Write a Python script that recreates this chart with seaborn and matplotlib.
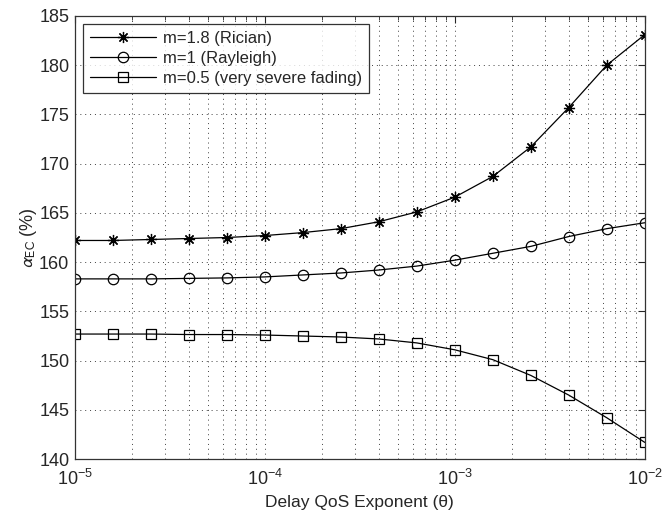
import numpy as np
import pandas as pd
import matplotlib
matplotlib.use("Agg")
import matplotlib.pyplot as plt
import seaborn as sns

# Delay QoS exponent values (log-spaced)
theta = [1e-5, 1.585e-5, 2.512e-5, 3.981e-5, 6.310e-5,
         1e-4, 1.585e-4, 2.512e-4, 3.981e-4, 6.310e-4,
         1e-3, 1.585e-3, 2.512e-3, 3.981e-3, 6.310e-3, 1e-2]

rician = [162.2, 162.2, 162.3, 162.4, 162.5, 162.7, 163.0, 163.4,
          164.1, 165.1, 166.6, 168.7, 171.7, 175.7, 180.0, 183.1]
rayleigh = [158.3, 158.3, 158.3, 158.35, 158.4, 158.5, 158.7, 158.9,
            159.2, 159.6, 160.2, 160.9, 161.6, 162.6, 163.4, 164.0]
severe = [152.7, 152.7, 152.7, 152.65, 152.65, 152.6, 152.5, 152.4,
          152.2, 151.8, 151.1, 150.1, 148.5, 146.5, 144.2, 141.7]

labels = ["m=1.8 (Rician)", "m=1 (Rayleigh)", "m=0.5 (very severe fading)"]
markers = [(8, 2, 0), "o", "s"]
msizes = [8, 7.5, 6.5]

sns.set_style("white")
plt.rcParams["font.family"] = ["Liberation Sans", "DejaVu Sans"]
plt.rcParams["mathtext.fontset"] = "stixsans"

df = pd.DataFrame({"theta": theta * 3,
                   "alpha": rician + rayleigh + severe,
                   "case": sum([[l] * len(theta) for l in labels], [])})

fig = plt.figure(figsize=(6.62, 5.13), dpi=100)
ax = fig.add_axes([0.113, 0.105, 0.861, 0.864])

for lab, mk, ms in zip(labels, markers, msizes):
    sub = df[df["case"] == lab]
    sns.lineplot(data=sub, x="theta", y="alpha", ax=ax, color="black",
                 linewidth=0.9, marker=mk, markersize=ms,
                 markerfacecolor="none", markeredgecolor="black",
                 markeredgewidth=0.9, label=lab)

ax.set_xscale("log")
ax.set_xlim(1e-5, 1e-2)
ax.set_ylim(140, 185)
ax.set_yticks(np.arange(140, 186, 5))

ax.grid(True, which="major", axis="both", linestyle=(0, (1, 4)), color="0.25", linewidth=0.7)
ax.grid(True, which="minor", axis="x", linestyle=(0, (1, 4)), color="0.25", linewidth=0.7)

ax.tick_params(which="both", direction="in", top=True, right=True, labelsize=13)
ax.tick_params(axis="x", which="major", pad=7)
ax.tick_params(axis="y", which="major", pad=4)
ax.tick_params(which="major", length=5)
ax.tick_params(which="minor", length=3)
for s in ax.spines.values():
    s.set_color("0.2")
    s.set_linewidth(0.9)

ax.set_xlabel("Delay QoS Exponent (\u03b8)", fontsize=12.5, labelpad=4)
ax.set_ylabel(r"$\alpha_{\rm EC}$ (%)", fontsize=13, labelpad=0)

leg = ax.legend(loc="upper left", fontsize=12, frameon=True, fancybox=False,
                edgecolor="black", handlelength=4.0, borderaxespad=0.5,
                labelspacing=0.3, handletextpad=0.4, borderpad=0.4)
leg.get_frame().set_linewidth(0.9)

fig.savefig("out.png", dpi=100)
